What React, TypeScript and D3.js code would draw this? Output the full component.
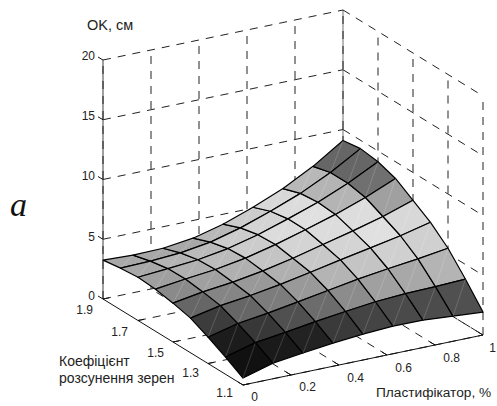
import * as d3 from 'd3';

// plasticizer %, grain spacing coefficient, OK in cm
const xGrid = [0, 0.125, 0.25, 0.375, 0.5, 0.625, 0.75, 0.875, 1];
const yGrid = [1.1, 1.2, 1.3, 1.4, 1.5, 1.6, 1.7, 1.8, 1.9];
const okValues = [
  [0.58, 1.31, 1.63, 1.94, 2.17, 2.31, 2.29, 2.1, 1.92],
  [1.44, 2.12, 2.46, 2.83, 3.16, 3.45, 3.61, 3.67, 3.77],
  [2.2, 2.82, 3.17, 3.59, 4.02, 4.45, 4.79, 5.09, 5.46],
  [2.9, 3.42, 3.74, 4.15, 4.64, 5.16, 5.64, 6.13, 6.73],
  [3.25, 3.67, 3.96, 4.38, 4.92, 5.54, 6.16, 6.84, 7.67],
  [3.52, 3.85, 4.12, 4.55, 5.16, 5.88, 6.64, 7.53, 8.6],
  [3.62, 3.82, 4.04, 4.45, 5.09, 5.89, 6.76, 7.82, 9.1],
  [3.48, 3.55, 3.71, 4.09, 4.76, 5.63, 6.6, 7.82, 9.3],
  [3.25, 3.15, 3.2, 3.52, 4.17, 5.06, 6.1, 7.44, 9.08],
];
// grey level of every face, front row first
const faceShade = [
  [0x11, 0x1a, 0x22, 0x3a, 0x44, 0x4a, 0x4c, 0x50],
  [0x1c, 0x38, 0x50, 0x6c, 0x8c, 0xa0, 0xa8, 0xb4],
  [0x3c, 0x66, 0x7c, 0x99, 0xb4, 0xc4, 0xd0, 0xd0],
  [0x66, 0x85, 0x99, 0xb0, 0xc8, 0xd4, 0xe0, 0xd8],
  [0x8a, 0xa0, 0xb0, 0xc4, 0xd4, 0xdc, 0xdd, 0xa0],
  [0xa0, 0xb0, 0xbb, 0xcc, 0xdc, 0xe0, 0xb4, 0x70],
  [0xa8, 0xb4, 0xbb, 0xcc, 0xd4, 0xdc, 0xb4, 0x66],
  [0xa8, 0xa8, 0xa8, 0xb8, 0xcc, 0xd8, 0xb8, 0x66],
];
const xTicks = [0, 0.2, 0.4, 0.6, 0.8, 1];
const yTicks = [1.1, 1.3, 1.5, 1.7, 1.9];
const zTicks = [0, 5, 10, 15, 20];

const xScale = d3.scaleLinear().domain([0, 1]).range([0, 1]);
const yScale = d3.scaleLinear().domain([1.1, 1.9]).range([0, 1]);
const zScale = d3.scaleLinear().domain([0, 20]).range([0, 239]);

type P = [number, number];
const project = (x: number, y: number, z: number): P => {
  const u = xScale(x);
  const v = yScale(y);
  return [243 + 240 * u - 140 * v, 385 - 50 * u - 86 * v - zScale(z)];
};

const line = d3.line<P>();
const DASH = '8 7';
const zMax = zTicks[zTicks.length - 1];

function Walls() {
  const dashed: P[][] = [];
  zTicks.forEach((z) => {
    dashed.push([project(0, 1.9, z), project(1, 1.9, z)]);
    dashed.push([project(1, 1.9, z), project(1, 1.1, z)]);
  });
  xTicks.slice(1).forEach((x) => {
    dashed.push([project(x, 1.9, 0), project(x, 1.9, zMax)]);
    dashed.push([project(x, 1.1, 0), project(x, 1.9, 0)]);
  });
  yTicks.slice(0, -1).forEach((y) => {
    dashed.push([project(1, y, 0), project(1, y, zMax)]);
    dashed.push([project(0, y, 0), project(1, y, 0)]);
  });
  return (
    <g fill="none">
      <path d={line([project(0, 1.9, 0), project(0, 1.9, zMax)]) ?? ''} stroke="#777" strokeWidth={1.4} />
      <path d={line([project(1, 1.9, 0), project(1, 1.9, zMax)]) ?? ''} stroke="#888" strokeWidth={1.2} />
      <path d={line([project(0, 1.9, 0), project(0, 1.9, zMax)]) ?? ''} stroke="#222" strokeDasharray={DASH} />
      {dashed.map((d, i) => (
        <path key={i} d={line(d) ?? ''} stroke="#222" strokeDasharray={DASH} />
      ))}
    </g>
  );
}

function Surface() {
  const faces: React.ReactNode[] = [];
  for (let i = yGrid.length - 2; i >= 0; i--) {
    for (let j = 0; j < xGrid.length - 1; j++) {
      const a = project(xGrid[j], yGrid[i], okValues[i][j]);
      const b = project(xGrid[j + 1], yGrid[i], okValues[i][j + 1]);
      const c = project(xGrid[j + 1], yGrid[i + 1], okValues[i + 1][j + 1]);
      const d = project(xGrid[j], yGrid[i + 1], okValues[i + 1][j]);
      const g = faceShade[i][j];
      faces.push(
        <g key={`${i}-${j}`}>
          <path d={`${line([a, b, c, d])}Z`} fill={d3.rgb(g, g, g).formatHex()} stroke="#000" strokeWidth={1.2} strokeLinejoin="round" />
          <path d={line([a, c]) ?? ''} stroke="#fff" strokeOpacity={0.28} strokeWidth={0.6} fill="none" />
        </g>,
      );
    }
  }
  return <g>{faces}</g>;
}

function Axes() {
  return (
    <g stroke="#111" fill="none">
      <path d={line([project(0, 1.9, 0), project(0, 1.1, 0), project(1, 1.1, 0)]) ?? ''} />
      {xTicks.map((x) => {
        const [px, py] = project(x, 1.1, 0);
        return <path key={x} d={line([[px, py], [px - 5, py - 3]]) ?? ''} />;
      })}
      {yTicks.map((y) => {
        const [px, py] = project(0, y, 0);
        return <path key={y} d={line([[px, py], [px + 6, py - 1.2]]) ?? ''} />;
      })}
      {zTicks.map((z) => {
        const [px, py] = project(0, 1.9, z);
        return <path key={z} d={line([[px, py], [px - 5, py - 3]]) ?? ''} />;
      })}
    </g>
  );
}

const zLabelPos: P[] = [[95, 300], [95, 241], [95, 180], [95, 120], [95, 60]];
const yLabelPos: P[] = [[233, 397], [199, 377], [164, 357], [128, 336], [93, 314]];
const xLabelPos: P[] = [[258, 401], [316, 391], [364, 382], [412, 372], [460, 362], [496, 352]];

export default function App() {
  return (
    <svg width={497} height={406} style={{ position: 'absolute', left: 0, top: 0, background: '#fff' }}>
      <Walls />
      <Axes />
      <Surface />
      <g fontFamily="'Liberation Sans', Arial, sans-serif" fontSize={12} fill="#222" textAnchor="end">
        {zTicks.map((z, i) => (
          <text key={z} x={zLabelPos[i][0]} y={zLabelPos[i][1]}>{z}</text>
        ))}
        {yTicks.map((y, i) => (
          <text key={y} x={yLabelPos[i][0]} y={yLabelPos[i][1]}>{y}</text>
        ))}
        {xTicks.map((x, i) => (
          <text key={x} x={xLabelPos[i][0]} y={xLabelPos[i][1]}>{x}</text>
        ))}
      </g>
      <g fontFamily="'Liberation Sans', Arial, sans-serif" fontSize={14} fill="#222">
        <text x={87} y={30} fontSize={14.5}>OK, см</text>
        <text x={59} y={366}>Коефіцієнт</text>
        <text x={59} y={383}>розсунення зерен</text>
        <text x={376} y={397} fontSize={13.7}>Пластифікатор, %</text>
      </g>
      <text x={10} y={216} fontFamily="'Liberation Serif', serif" fontStyle="italic" fontSize={34} fill="#111">a</text>
    </svg>
  );
}
